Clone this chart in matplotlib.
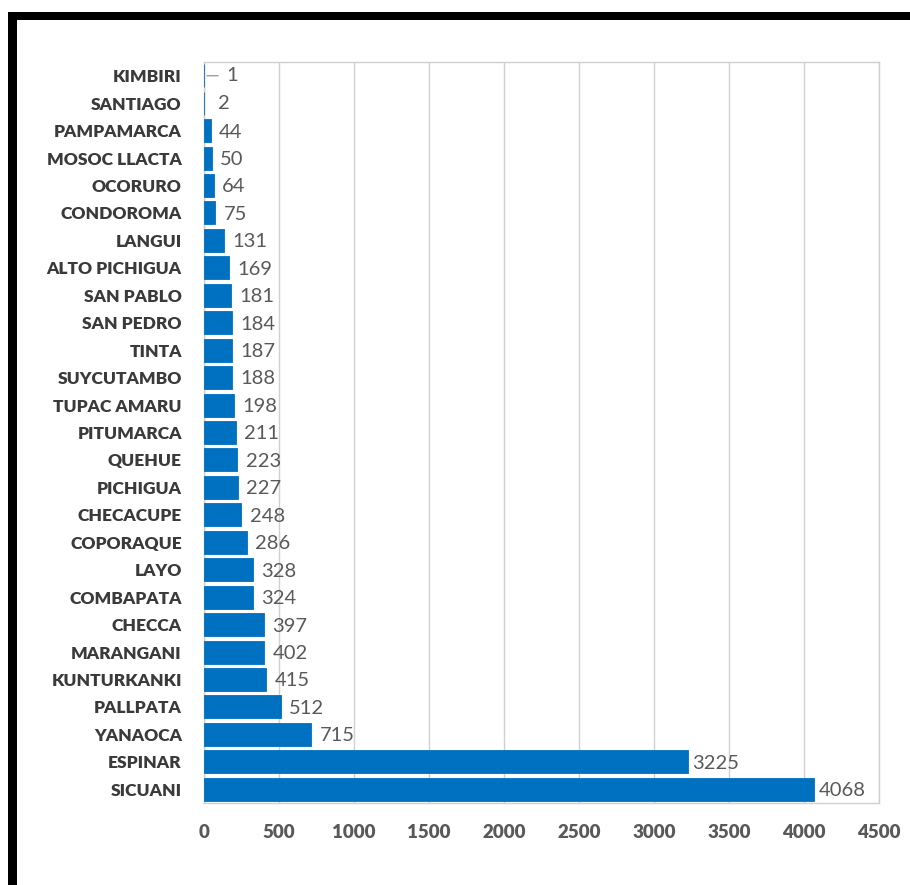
import matplotlib
matplotlib.use("Agg")
import matplotlib.pyplot as plt
from matplotlib.patches import Rectangle

categories = ["KIMBIRI", "SANTIAGO", "PAMPAMARCA", "MOSOC LLACTA", "OCORURO",
              "CONDOROMA", "LANGUI", "ALTO PICHIGUA", "SAN PABLO", "SAN PEDRO",
              "TINTA", "SUYCUTAMBO", "TUPAC AMARU", "PITUMARCA", "QUEHUE",
              "PICHIGUA", "CHECACUPE", "COPORAQUE", "LAYO", "COMBAPATA",
              "CHECCA", "MARANGANI", "KUNTURKANKI", "PALLPATA", "YANAOCA",
              "ESPINAR", "SICUANI"]
values = [1, 2, 44, 50, 64, 75, 131, 169, 181, 184, 187, 188, 198, 211, 223,
          227, 248, 286, 328, 324, 397, 402, 415, 512, 715, 3225, 4068]
xticks = [0, 500, 1000, 1500, 2000, 2500, 3000, 3500, 4000, 4500]

W, H = 910, 885
fig = plt.figure(figsize=(W / 100, H / 100), dpi=100)
fig.patch.set_facecolor("white")

# black frame (top and left)
fig.patches.append(Rectangle((8 / W, 0), 9 / W, (H - 12) / H, transform=fig.transFigure,
                             facecolor="black", edgecolor="none", zorder=0))
fig.patches.append(Rectangle((8 / W, (H - 20) / H), (W - 8) / W, 8 / H, transform=fig.transFigure,
                             facecolor="black", edgecolor="none", zorder=0))

lab_font = ["Lato", "DejaVu Sans"]

ax = fig.add_axes([204 / W, 82 / H, 675 / W, 741 / H])
y = list(range(len(categories)))
ax.barh(y, values, height=0.84, color="#0070C0", edgecolor="#0070C0",
        linewidth=0.6, zorder=3)
ax.set_ylim(len(categories) - 0.5, -0.5)
ax.set_xlim(0, 4500)
ax.set_xticks(xticks)
ax.set_xticklabels([str(t) for t in xticks], fontfamily=lab_font,
                   fontweight="heavy", fontsize=13.5, color="#595959")
ax.set_yticks(y)
ax.set_yticklabels(categories, fontfamily=lab_font, fontweight="heavy",
                   fontsize=12.5, color="#3a3a3a")

ax.tick_params(axis="both", length=0)
ax.tick_params(axis="x", pad=15)
ax.tick_params(axis="y", pad=16)
ax.grid(axis="x", color="#d0d0d0", linewidth=1, zorder=0)
for s in ax.spines.values():
    s.set_color("#d0d0d0")
    s.set_linewidth(1)

for yi, v in zip(y, values):
    if v <= 2:
        off = 14 if v == 1 else 8
        if v == 1:
            ax.annotate("", xy=(v, yi), xytext=(12, 0), textcoords="offset points",
                        arrowprops=dict(arrowstyle="-", color="#a0a0a0", lw=1))
        ax.annotate(str(v), xy=(v, yi), xytext=(off + 2, 0), textcoords="offset points",
                    va="center", ha="left", fontsize=14.5, color="#595959",
                    fontfamily=lab_font)
    else:
        ax.annotate(str(v), xy=(v, yi), xytext=(3 if v > 1000 else 6, -1),
                    textcoords="offset points", va="center", ha="left",
                    fontsize=14.5, color="#595959", fontfamily=lab_font)

fig.savefig("out.png", dpi=100, facecolor="white")
